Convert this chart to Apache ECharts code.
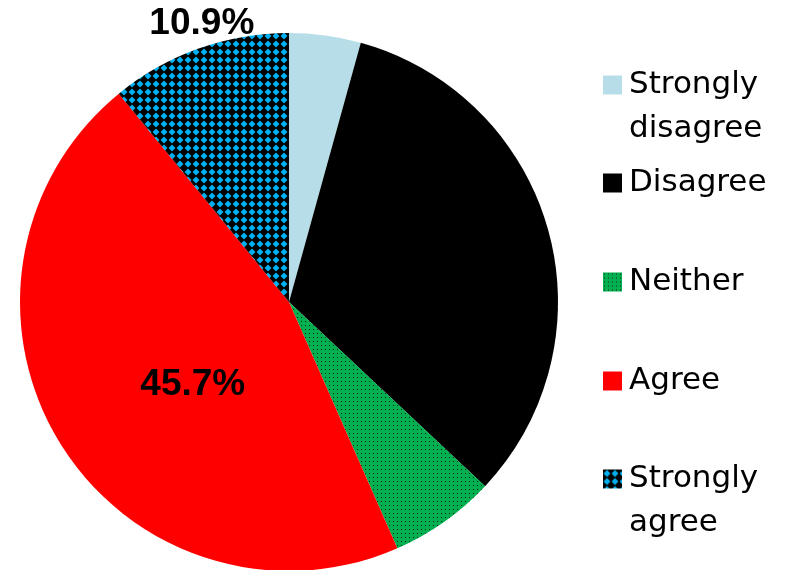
<!DOCTYPE html>
<html>
<head>
<meta charset="utf-8">
<script src="https://cdn.jsdelivr.net/npm/echarts@6/dist/echarts.min.js"></script>
<style>
html,body{margin:0;padding:0;background:#fff;}
#chart{width:796px;height:570px;}
</style>
</head>
<body>
<div id="chart"></div>
<script>
// Data
var categories = ['Strongly disagree', 'Disagree', 'Neither', 'Agree', 'Strongly agree'];
var legendFirstLines = ['Strongly', 'Disagree', 'Neither', 'Agree', 'Strongly'];
var legendSecondLines = ['disagree', '', '', '', 'agree'];
var values = [4.3, 32.7, 6.4, 45.7, 10.9];
var labelShown = [false, false, false, true, true];

function dotPattern() {
  var c = document.createElement('canvas');
  c.width = 4; c.height = 4;
  var g = c.getContext('2d');
  g.fillStyle = '#00B050'; g.fillRect(0, 0, 4, 4);
  g.fillStyle = '#0a2a14'; g.fillRect(1, 1, 1, 1);
  return {image: c, repeat: 'repeat'};
}
function diamondPattern() {
  var c = document.createElement('canvas');
  c.width = 8; c.height = 8;
  var g = c.getContext('2d');
  g.fillStyle = '#000000'; g.fillRect(0, 0, 8, 8);
  g.fillStyle = '#00B0F0';
  g.beginPath();
  g.moveTo(4, 0.5); g.lineTo(7.5, 4); g.lineTo(4, 7.5); g.lineTo(0.5, 4);
  g.closePath(); g.fill();
  return {image: c, repeat: 'repeat'};
}

var FONT = 'DejaVu Sans, Liberation Sans, Arial, sans-serif';
var LEGEND_FS = 31;
var colors = ['#B7DEE8', '#000000', dotPattern(), '#FF0000', diamondPattern()];
var labelOffsets = [[0,0],[0,0],[0,0],[21,11],[-41,-149]];
var legendCenters = [85, 183, 282, 381, 479];

var data = categories.map(function (name, i) {
  return {
    name: name,
    value: values[i],
    itemStyle: {color: colors[i]},
    label: {show: labelShown[i], offset: labelOffsets[i]}
  };
});

var legends = categories.map(function (name, i) {
  return {
    data: [name],
    orient: 'vertical',
    left: 603,
    top: legendCenters[i] - 19.5,
    padding: 0,
    itemWidth: 19,
    itemHeight: 19,
    icon: 'rect',
    selectedMode: false,
    formatter: function () { return legendFirstLines[i]; },
    textStyle: {
      fontFamily: FONT,
      fontSize: LEGEND_FS,
      lineHeight: 39,
      color: '#000',
      padding: [0, 0, 0, 2]
    }
  };
});

var secondLines = [];
legendSecondLines.forEach(function (t, i) {
  if (!t) return;
  secondLines.push({
    type: 'text',
    left: 629,
    top: legendCenters[i] + 44 - 19.5,
    style: {
      text: t,
      font: LEGEND_FS + 'px ' + FONT,
      fill: '#000',
      lineHeight: 39,
      height: 39,
      verticalAlign: 'top'
    }
  });
});

var chart = echarts.init(document.getElementById('chart'), null, {renderer: 'canvas'});
chart.setOption({
  animation: false,
  backgroundColor: '#fff',
  legend: legends,
  graphic: secondLines,
  series: [{
    type: 'pie',
    center: [289, 302],
    radius: [0, 269],
    startAngle: 90,
    clockwise: true,
    avoidLabelOverlap: false,
    itemStyle: {borderWidth: 0},
    emphasis: {disabled: true},
    label: {
      position: 'inside',
      formatter: function (p) { return p.value.toFixed(1) + '%'; },
      fontFamily: 'Liberation Sans, Arial, sans-serif',
      fontWeight: 'bold',
      fontSize: 37,
      color: '#000'
    },
    labelLine: {show: false},
    data: data
  }]
});
</script>
</body>
</html>
